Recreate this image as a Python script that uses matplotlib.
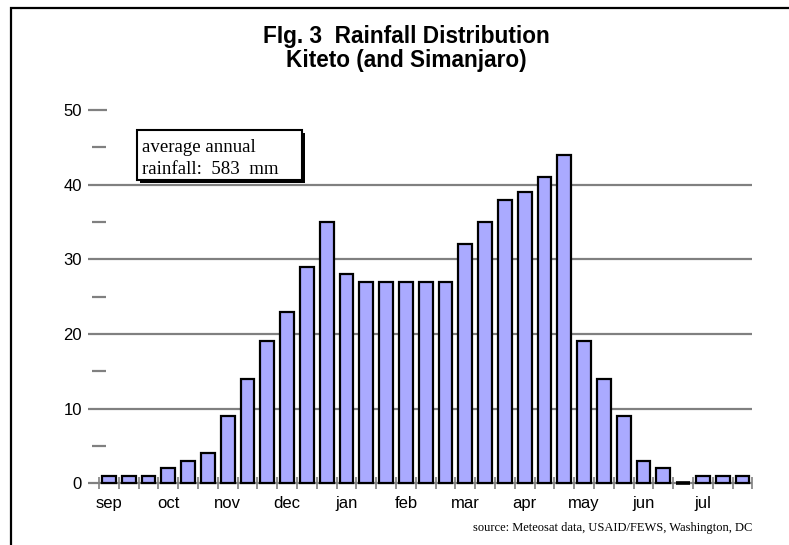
import numpy as np
import matplotlib.pyplot as plt
from matplotlib.patches import Rectangle

# dekadal rainfall (mm), three dekads per month, Sep..Jul
months = ['sep', 'oct', 'nov', 'dec', 'jan', 'feb', 'mar', 'apr', 'may', 'jun', 'jul']
rainfall = [1, 1, 1, 2, 3, 4, 9, 14, 19, 23, 29, 35, 28, 27, 27, 27, 27, 27,
            32, 35, 38, 39, 41, 44, 19, 14, 9, 3, 2, 0, 1, 1, 1]
y_major = [0, 10, 20, 30, 40, 50]
y_minor = [5, 15, 25, 35, 45]
title_text = 'FIg. 3  Rainfall Distribution\nKiteto (and Simanjaro)'
box_text = 'average annual\nrainfall:  583  mm'
source_text = 'source: Meteosat data, USAID/FEWS, Washington, DC'

W, H = 789, 545
plt.rcParams['font.family'] = ['Liberation Sans', 'DejaVu Sans']
fig = plt.figure(figsize=(W / 100, H / 100), dpi=100)

# axes placed in pixels of the reference
slot = 19.8
x0 = -0.5 - 11 / slot
ax = fig.add_axes([88 / W, 1 - 483.3 / H, (752.4 - 88) / W, (483.3 - 110) / H])
x = np.arange(len(rainfall))
vals = np.array(rainfall)
ax.bar(x, rainfall, width=0.7, color='#aaaaff', edgecolor='black',
       linewidth=1.6, zorder=3, clip_on=False)
# zero-height bars show as a flat black dash
zero = x[vals == 0]
ax.hlines(vals[vals == 0], zero - 0.35, zero + 0.35, color='black', lw=2.6,
          zorder=4, clip_on=False)
ax.set_xlim(x0, len(rainfall) - 0.5)
ax.set_ylim(0, 50)

grey = '#808080'
ax.hlines(y_major[:-1], x0, len(rainfall) - 0.5, color=grey, lw=1.6, zorder=1, clip_on=False)
ax.hlines(y_major[-1], x0, x0 + 19 / slot, color=grey, lw=1.6, clip_on=False)
ax.hlines(y_minor, x0 + 4 / slot, x0 + 18 / slot, color=grey, lw=1.6, clip_on=False)

for s in ax.spines.values():
    s.set_visible(False)

ax.set_yticks(y_major)
ax.tick_params(axis='y', length=0, pad=4.3, labelsize=12)
ax.set_xticks(np.arange(0, len(rainfall), 3))
ax.set_xticklabels(months)
ax.set_xticks(np.arange(-0.5, len(rainfall), 1), minor=True)
ax.tick_params(axis='x', which='major', length=0, pad=9.5, labelsize=12)
ax.tick_params(axis='x', which='minor', direction='inout', length=9, width=1.2, color=grey)

fig.text(0.515, 1 - 25 / H, title_text, ha='center', va='top', fontsize=16.3,
         fontweight='bold', linespacing=1.08)

# annotation box with shadow
bx, by, bw, bh = 137, 130, 165, 50
fig.add_artist(Rectangle(((bx + 3) / W, 1 - (by + bh + 3) / H), bw / W, bh / H,
                         transform=fig.transFigure, facecolor='black', edgecolor='black', lw=0))
fig.add_artist(Rectangle((bx / W, 1 - (by + bh) / H), bw / W, bh / H,
                         transform=fig.transFigure, facecolor='white', edgecolor='black', lw=1.5))
fig.text(142 / W, 1 - 158.5 / H, box_text, ha='left', va='center', fontsize=13.6,
         family='Liberation Serif', linespacing=1.42)

fig.text(752 / W, 1 - 528 / H, source_text, ha='right', va='center', fontsize=9,
         family='Liberation Serif')

# outer frame (only top and left edges visible)
fig.add_artist(Rectangle((11 / W, -0.1), 1.2, 1.1 - 7.5 / H, transform=fig.transFigure,
                         fill=False, edgecolor='black', lw=1.6))

fig.savefig('out.png', dpi=100)
